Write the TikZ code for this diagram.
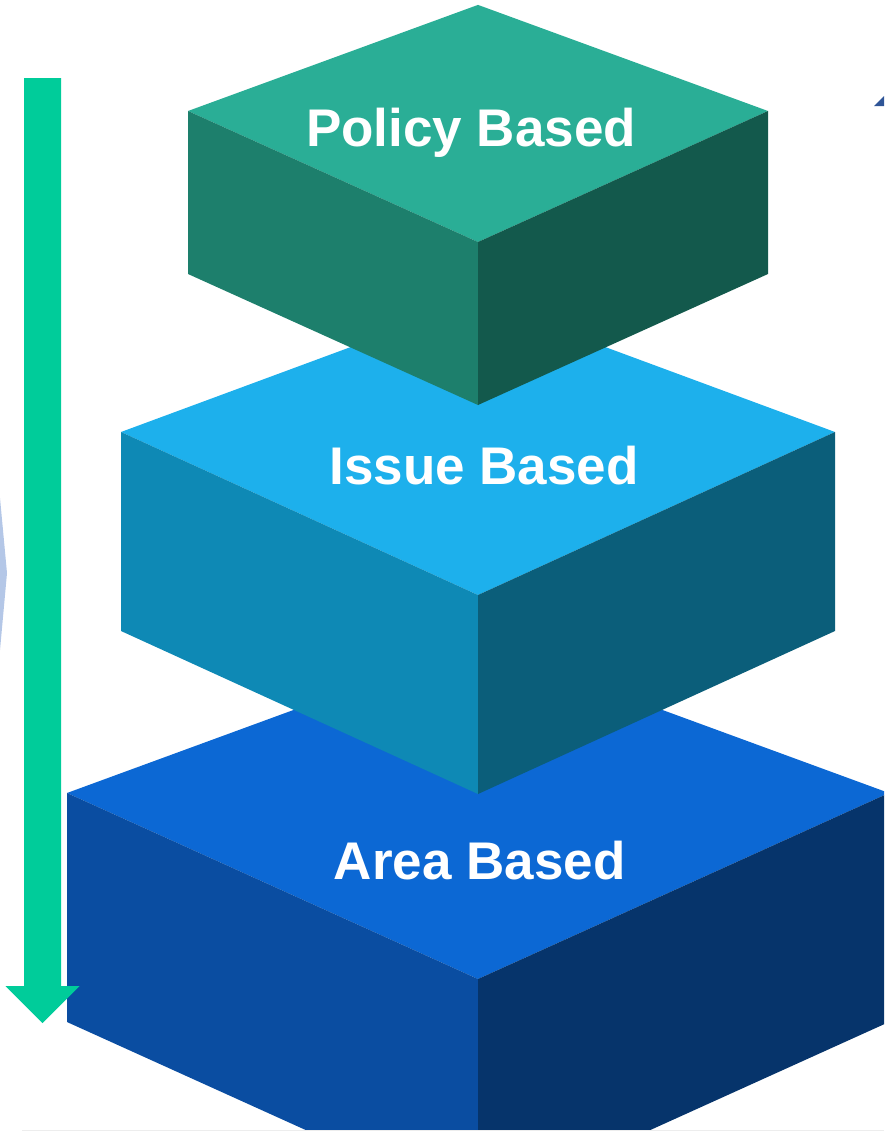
\documentclass[tikz,border=0pt]{standalone}
\usepackage{fontspec}
\setmainfont{Liberation Sans}
\usetikzlibrary{positioning}
\definecolor{policytop}{RGB}{42,174,150}
\definecolor{policyleft}{RGB}{29,127,108}
\definecolor{policyright}{RGB}{19,89,76}
\definecolor{issuetop}{RGB}{29,176,236}
\definecolor{issueleft}{RGB}{14,137,181}
\definecolor{issueright}{RGB}{11,94,122}
\definecolor{areatop}{RGB}{12,104,212}
\definecolor{arealeft}{RGB}{10,77,161}
\definecolor{arearight}{RGB}{6,52,107}
\definecolor{mygreen}{RGB}{0,204,154}
\definecolor{mypale}{RGB}{180,199,231}
\definecolor{mydark}{RGB}{47,85,151}
% #1 name, #2 half width, #3 y of side corners, #4 front drop, #5 height
\newcommand\mycube[5]{%
  \coordinate (#1l) at ({478-#2},#3);
  \coordinate (#1r) at ({478+#2},#3);
  \coordinate (#1f) at (478,{#3+#4});
  \coordinate (#1b) at (478,{#3-0.81*#4});
  \fill[#1top] (#1b) -- (#1r) -- (#1f) -- (#1l) -- cycle;
  \fill[#1left] (#1l) -- (#1f) -- ++(0,#5) -- ++(-#2,-#4) -- cycle;
  \fill[#1right] (#1f) -- (#1r) -- ++(0,#5) -- ++(-#2,#4) -- cycle;
}

\begin{document}
\begin{tikzpicture}[x=1pt, y=-1pt,
cubelabel/.style={
  text=white,
  inner sep=0pt,
  anchor=base,
  font=\fontsize{53}{60}\selectfont\bfseries}
]
\useasboundingbox (0,0) rectangle (884,1132);
\begin{scope}
\clip (0,0) rectangle (884,1130);
\mycube{area}{411}{793}{186}{229}
\mycube{issue}{357}{432}{163}{199}
\mycube{policy}{290}{111}{131}{163}
\end{scope}
\node[cubelabel] (policy) at (471,146.7) {Policy Based};
\node[cubelabel] (issue) at (484,484.3) {Issue Based};
\node[cubelabel] (area) at (479.7,879) {Area Based};
% arrow on the left
\fill[mygreen] (24,78) -- (61,78) -- (61,986) -- (79.5,986) -- (42.5,1023)
  -- (5.5,986) -- (24,986) -- cycle;
% pieces cut off by the border
\fill[mypale] (0,498) -- (7,573) -- (0,650) -- cycle;
\fill[mydark] (874,106) -- (884,96) -- (884,106) -- cycle;
\draw[black!7, line width=1pt] (22,1130.5) -- (884,1130.5);
\end{tikzpicture}
\end{document}
